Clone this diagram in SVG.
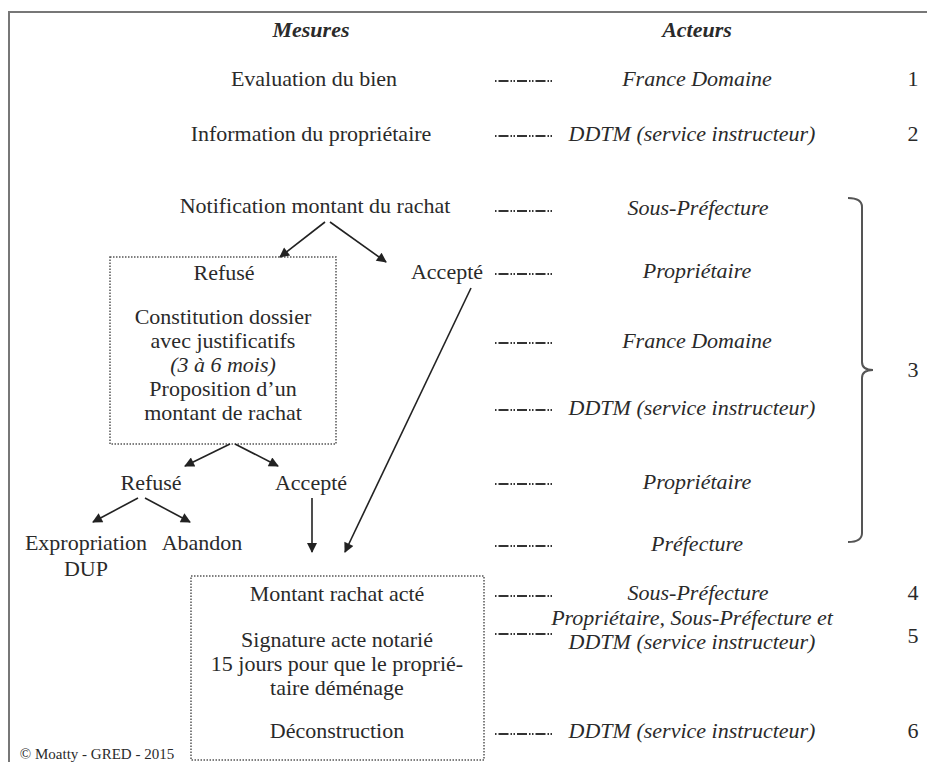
<svg xmlns="http://www.w3.org/2000/svg" width="927" height="762" viewBox="0 0 927 762">
<defs>
<style>
text{font-family:"Liberation Serif","Times New Roman",serif;font-size:22px;fill:#2a2a2a;text-anchor:middle}
.h{font-weight:bold;font-style:italic}
.i{font-style:italic}
.dd{stroke:#333;stroke-width:2;stroke-dasharray:10 2 1.5 1.5 1.5 2;stroke-dashoffset:15;fill:none}
.box{fill:none;stroke:#555;stroke-width:1.5;stroke-dasharray:1.5 1.5}
.ar{stroke:#222;stroke-width:1.6;fill:none;marker-end:url(#ah)}
</style>
<marker id="ah" viewBox="0 0 10 10" refX="9" refY="5" markerWidth="12" markerHeight="10" markerUnits="userSpaceOnUse" orient="auto">
<path d="M0,0 L10,5 L0,10 z" fill="#222"/>
</marker>
</defs>
<rect width="927" height="762" fill="#fff"/>
<path d="M9,762 L9,12 L927,12" fill="none" stroke="#777" stroke-width="2"/>

<g id="headers">
<text class="h" x="311" y="37">Mesures</text>
<text class="h" x="697" y="37">Acteurs</text>
</g>

<g id="measures">
<g id="m1"><text x="314" y="86">Evaluation du bien</text></g>
<g id="m2"><text x="311" y="141">Information du propriétaire</text></g>
<g id="m3"><text x="315" y="213">Notification montant du rachat</text></g>
<g id="box1">
<rect class="box" x="110" y="257" width="226" height="187"/>
<text x="224" y="280">Refusé</text>
<text x="223" y="324">Constitution dossier</text>
<text x="223" y="348">avec justificatifs</text>
<text class="i" x="223" y="372">(3 à 6 mois)</text>
<text x="223" y="396">Proposition d’un</text>
<text x="223" y="420">montant de rachat</text>
</g>
<g id="accepte1"><text x="447" y="279">Accepté</text></g>
<g id="refuse2"><text x="151" y="490">Refusé</text></g>
<g id="accepte2"><text x="311" y="490">Accepté</text></g>
<g id="expro"><text x="86" y="550">Expropriation</text><text x="86" y="576">DUP</text></g>
<g id="abandon"><text x="202" y="550">Abandon</text></g>
<g id="box2">
<rect class="box" x="191" y="576" width="293" height="184"/>
<text x="337" y="601">Montant rachat acté</text>
<text x="337" y="647">Signature acte notarié</text>
<text x="337" y="671">15 jours pour que le proprié-</text>
<text x="337" y="695">taire déménage</text>
<text x="337" y="738">Déconstruction</text>
</g>
</g>

<g id="actors">
<text class="i" x="697" y="86">France Domaine</text>
<text class="i" x="692" y="141">DDTM (service instructeur)</text>
<text class="i" x="698" y="215">Sous-Préfecture</text>
<text class="i" x="697" y="278">Propriétaire</text>
<text class="i" x="697" y="348">France Domaine</text>
<text class="i" x="692" y="415">DDTM (service instructeur)</text>
<text class="i" x="697" y="489">Propriétaire</text>
<text class="i" x="697" y="551">Préfecture</text>
<text class="i" x="698" y="600">Sous-Préfecture</text>
<text class="i" x="692" y="625">Propriétaire, Sous-Préfecture et</text>
<text class="i" x="692" y="649">DDTM (service instructeur)</text>
<text class="i" x="692" y="738">DDTM (service instructeur)</text>
</g>

<g id="numbers">
<text x="913" y="86">1</text>
<text x="913" y="141">2</text>
<text x="913" y="377">3</text>
<text x="913" y="600">4</text>
<text x="913" y="643">5</text>
<text x="913" y="738">6</text>
</g>

<g id="bracket">
<path d="M848,198 Q862,198 862,207 L862,362 Q862,370 873,370 Q862,370 862,378 L862,533 Q862,542 848,542" fill="none" stroke="#555" stroke-width="2"/>
</g>

<g id="connectors">
<line class="dd" x1="495" y1="81" x2="552" y2="81"/>
<line class="dd" x1="495" y1="136" x2="552" y2="136"/>
<line class="dd" x1="495" y1="211" x2="552" y2="211"/>
<line class="dd" x1="495" y1="274" x2="552" y2="274"/>
<line class="dd" x1="495" y1="343" x2="552" y2="343"/>
<line class="dd" x1="495" y1="410" x2="552" y2="410"/>
<line class="dd" x1="495" y1="484" x2="552" y2="484"/>
<line class="dd" x1="495" y1="546" x2="552" y2="546"/>
<line class="dd" x1="495" y1="596" x2="552" y2="596"/>
<line class="dd" x1="495" y1="634" x2="552" y2="634"/>
<line class="dd" x1="495" y1="734" x2="552" y2="734"/>

<line class="ar" x1="325" y1="222" x2="280" y2="257"/>
<line class="ar" x1="330" y1="222" x2="386" y2="262"/>
<line class="ar" x1="230" y1="444" x2="185" y2="466"/>
<line class="ar" x1="235" y1="444" x2="278" y2="466"/>
<line class="ar" x1="138" y1="498" x2="93" y2="522"/>
<line class="ar" x1="145" y1="498" x2="190" y2="522"/>
<line class="ar" x1="312" y1="498" x2="312" y2="552"/>
<line class="ar" x1="471" y1="288" x2="345" y2="552"/>
</g>

<text x="97" y="759" style="font-size:15px">© Moatty - GRED - 2015</text>
</svg>
